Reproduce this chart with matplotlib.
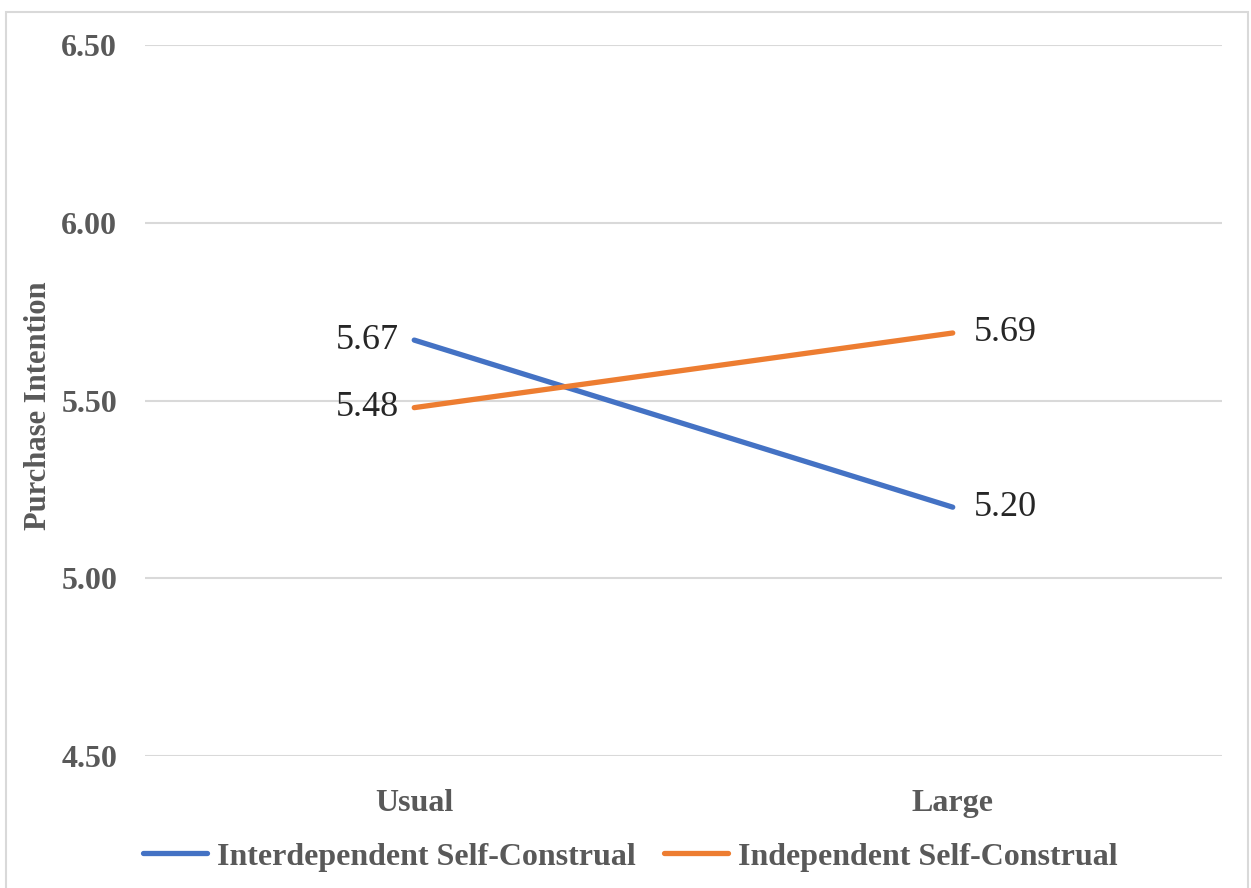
import matplotlib.pyplot as plt
from matplotlib.patches import Rectangle

categories = ["Usual", "Large"]
interdependent = [5.67, 5.20]
independent = [5.48, 5.69]
series_names = ["Interdependent Self-Construal", "Independent Self-Construal"]
y_ticks = [4.50, 5.00, 5.50, 6.00, 6.50]

plt.rcParams["font.family"] = ["Liberation Serif", "DejaVu Serif"]

fig = plt.figure(figsize=(12.51, 8.88), dpi=100)
ax = fig.add_axes([0.1159, 0.1486, 0.8609, 0.8007])

# chart area border
fig.patches.append(Rectangle((0.005, -0.01), 0.993, 0.996, transform=fig.transFigure,
                             fill=False, edgecolor="#D9D9D9", linewidth=1.5))

x = list(range(len(categories)))
blue, orange = "#4472C4", "#ED7D31"
ax.plot(x, interdependent, color=blue, lw=3.8, solid_capstyle="round", label=series_names[0], zorder=3)
ax.plot(x, independent, color=orange, lw=3.8, solid_capstyle="round", label=series_names[1], zorder=3)

# data labels: left of first point, right of second
for series in (interdependent, independent):
    for xi, v in zip(x, series):
        off, ha = (-11, "right") if xi == 0 else (15, "left")
        ax.annotate(f"{v:.2f}", (xi, v), xytext=(off, 0), textcoords="offset points",
                    ha=ha, va="center", fontsize=26, color="#262626")

ax.set_xlim(-0.5, 1.5)
ax.set_ylim(4.5, 6.5)
ax.set_yticks(y_ticks)
ax.set_yticklabels([f"{t:.2f}" for t in y_ticks], fontsize=23, fontweight="bold", color="#595959")
ax.set_xticks(x)
ax.set_xticklabels(categories, fontsize=23, fontweight="bold", color="#595959")
ax.tick_params(length=0)
ax.tick_params(axis="y", pad=20)
ax.tick_params(axis="x", pad=24)
ax.grid(axis="y", color="#D9D9D9", lw=1.5)
ax.set_axisbelow(True)
for s in ax.spines.values():
    s.set_visible(False)

fig.text(0.031, 0.543, "Purchase Intention", rotation=90, ha="center", va="center",
         fontsize=22, fontweight="bold", color="#595959")

fig.legend(loc="center", bbox_to_anchor=(0.504, 0.035), ncol=2, frameon=False,
           prop={"size": 23, "weight": "bold"}, labelcolor="#595959",
           handlelength=2.0, handletextpad=0.3, columnspacing=0.9)

fig.savefig("out.png", dpi=100)
